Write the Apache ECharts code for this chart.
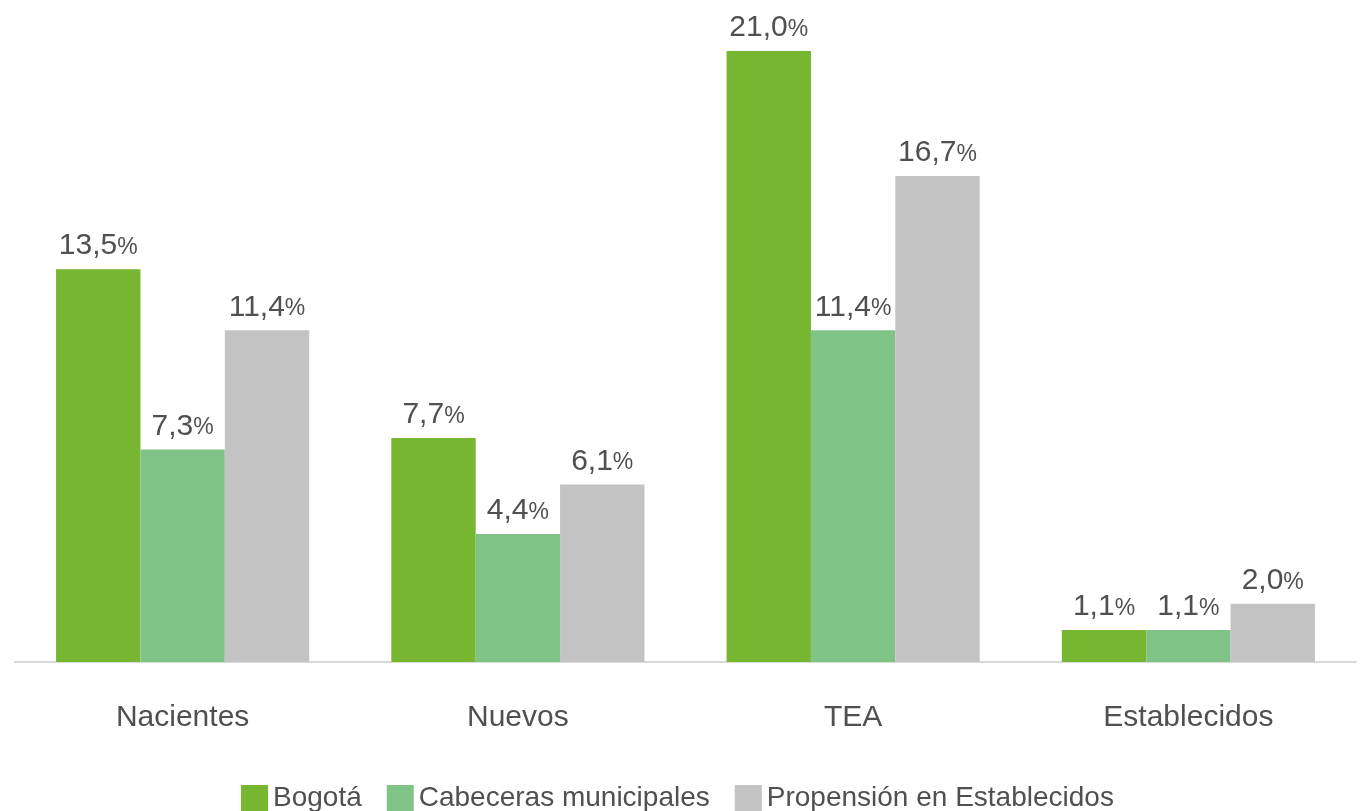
<!DOCTYPE html>
<html>
<head>
<meta charset="utf-8">
<script src="https://cdn.jsdelivr.net/npm/echarts@6/dist/echarts.min.js"></script>
<style>html,body{margin:0;padding:0;background:#fff}#c{width:1364px;height:811px}</style>
</head>
<body>
<div id="c"></div>
<script>
var categories = ['Nacientes', 'Nuevos', 'TEA', 'Establecidos'];
var seriesNames = ['Bogotá', 'Cabeceras municipales', 'Propensión en Establecidos'];
var bogota = [13.5, 7.7, 21.0, 1.1];
var cabeceras = [7.3, 4.4, 11.4, 1.1];
var propension = [11.4, 6.1, 16.7, 2.0];
var colors = ['#76b631', '#80c386', '#c4c3c3'];

var FONT = '"Liberation Sans", Arial, Helvetica, sans-serif';
var TXT = '#505050';
var chart = echarts.init(document.getElementById('c'));
function fmt(p) {
  return '{v|' + p.value.toFixed(1).replace('.', ',') + '}{p|%}';
}
function mk(name, data, color) {
  return {
    name: name, type: 'bar', data: data, barGap: '0%', barCategoryGap: '24.5%',
    itemStyle: { color: color },
    label: {
      show: true, position: 'top', distance: 8, formatter: fmt,
      rich: {
        v: { fontSize: 30, color: TXT, fontFamily: FONT },
        p: { fontSize: 23, color: TXT, fontFamily: FONT, padding: [3, 0, 0, 0] }
      }
    }
  };
}
chart.setOption({
  animation: false,
  textStyle: { fontFamily: FONT },
  grid: { left: 15, right: 8, top: 51, bottom: 149 },
  legend: {
    data: seriesNames, left: 236, top: 779, itemWidth: 27, itemHeight: 26, itemGap: 25,
    icon: 'rect',
    textStyle: { fontSize: 28, color: TXT, fontFamily: FONT }
  },
  xAxis: {
    type: 'category', data: categories,
    axisLine: { lineStyle: { color: '#d9d9d9', width: 2 } },
    axisTick: { show: false },
    axisLabel: { fontSize: 30, color: TXT, margin: 41, fontFamily: FONT }
  },
  yAxis: { type: 'value', min: 0, max: 21, show: false, splitLine: { show: false } },
  series: [
    mk(seriesNames[0], bogota, colors[0]),
    mk(seriesNames[1], cabeceras, colors[1]),
    mk(seriesNames[2], propension, colors[2])
  ]
});
</script>
</body>
</html>
